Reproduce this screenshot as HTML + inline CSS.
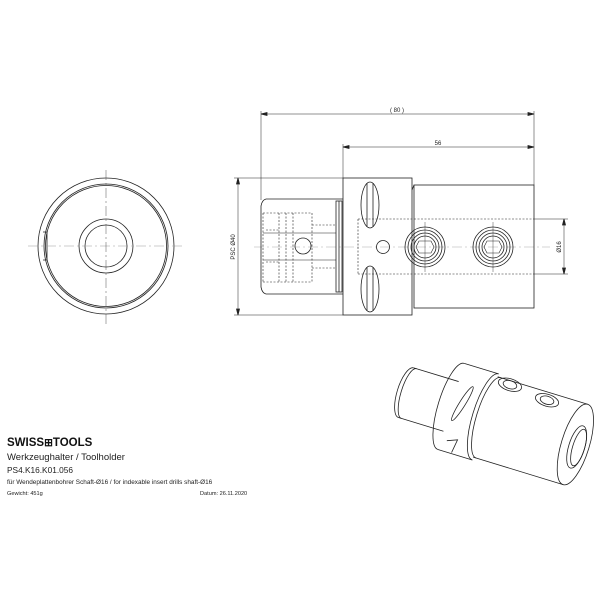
<!DOCTYPE html>
<html><head><meta charset="utf-8"><style>
html,body{margin:0;padding:0;background:#fff;width:600px;height:600px;overflow:hidden}
svg{display:block}
text{font-family:"Liberation Sans",sans-serif;fill:#222}
</style></head><body>
<svg width="600" height="600" viewBox="0 0 600 600" xmlns="http://www.w3.org/2000/svg">
<g fill="none" stroke="#222" stroke-width="0.8">
<circle cx="106" cy="246" r="68"/>
<circle cx="106" cy="246" r="62"/>
<circle cx="106" cy="246" r="60.5"/>
<circle cx="106" cy="246" r="27"/>
<circle cx="106" cy="246" r="21"/>
<path d="M43,232 L47,232 L47,260 L43,260"/>
<line x1="28" y1="246" x2="184" y2="246" stroke="#999" stroke-width="0.5" stroke-dasharray="10,3,2,3"/>
<line x1="106" y1="170" x2="106" y2="324" stroke="#555" stroke-width="0.5" stroke-dasharray="10,3,2,3"/>

<line x1="254" y1="247" x2="550" y2="247" stroke="#aaa" stroke-width="0.5" stroke-dasharray="10,3,2,3"/>
<line x1="261" y1="114" x2="534" y2="114" stroke-width="0.5"/>
<path d="M261,114 l6,-1.5 v3z M534,114 l-6,-1.5 v3z" fill="#222"/>
<line x1="343" y1="147" x2="534" y2="147" stroke-width="0.5"/>
<path d="M343,147 l6,-1.5 v3z M534,147 l-6,-1.5 v3z" fill="#222"/>
<line x1="261" y1="111" x2="261" y2="200" stroke-width="0.5"/>
<line x1="343" y1="144" x2="343" y2="178" stroke-width="0.5"/>
<line x1="534" y1="111" x2="534" y2="185" stroke-width="0.5"/>
<line x1="238" y1="178" x2="238" y2="315" stroke-width="0.5"/>
<path d="M238,178 l-1.5,6 h3z M238,315 l-1.5,-6 h3z" fill="#222"/>
<line x1="234" y1="178" x2="343" y2="178" stroke-width="0.5"/>
<line x1="234" y1="315" x2="343" y2="315" stroke-width="0.5"/>
<line x1="564" y1="219" x2="564" y2="274" stroke-width="0.5"/>
<path d="M564,219 l-1.5,6 h3z M564,274 l-1.5,-6 h3z" fill="#222"/>
<line x1="534" y1="219" x2="568" y2="219" stroke-width="0.5"/>
<line x1="534" y1="274" x2="568" y2="274" stroke-width="0.5"/>
<rect x="343" y="178" width="69" height="137"/>
<rect x="414" y="185" width="120" height="123"/>
<line x1="412" y1="190" x2="414" y2="185"/>
<path d="M343,199 L266,199 Q262,200 261,206 L261,287 Q262,293 266,294 L343,294"/>
<rect x="336" y="201" width="6" height="91"/>
<line x1="339" y1="201" x2="339" y2="292"/>
<g stroke-dasharray="2,1.5" stroke-width="0.6">
<line x1="263" y1="213" x2="263" y2="282"/>
<line x1="279" y1="213" x2="279" y2="282"/>
<line x1="286" y1="213" x2="286" y2="282"/>
<line x1="293" y1="213" x2="293" y2="282"/>
<line x1="263" y1="213" x2="312" y2="213"/>
<line x1="263" y1="282" x2="312" y2="282"/>
<line x1="312" y1="213" x2="312" y2="282"/>
<line x1="312" y1="225" x2="336" y2="225"/>
<line x1="312" y1="268" x2="336" y2="268"/>
<line x1="358" y1="219" x2="534" y2="219"/>
<line x1="358" y1="274" x2="534" y2="274"/>
<line x1="358" y1="219" x2="358" y2="274"/>
<line x1="266" y1="230" x2="280" y2="230"/>
<line x1="266" y1="262" x2="280" y2="262"/>
</g>
<line x1="263" y1="233" x2="336" y2="233" stroke-width="0.5"/>
<line x1="263" y1="260" x2="336" y2="260" stroke-width="0.5"/>
<circle cx="303" cy="246" r="8"/>
<circle cx="383" cy="247" r="6.5"/>
<ellipse cx="370" cy="205" rx="9" ry="23"/>
<ellipse cx="370" cy="289" rx="9" ry="23"/>
<line x1="367" y1="183" x2="367" y2="227"/><line x1="373" y1="183" x2="373" y2="227"/>
<line x1="367" y1="267" x2="367" y2="311"/><line x1="373" y1="267" x2="373" y2="311"/>
<circle cx="425" cy="247" r="20"/><circle cx="425" cy="247" r="17"/><circle cx="425" cy="247" r="14"/>
<circle cx="425" cy="247" r="11"/>
<path d="M419,241 h12 l3,6 l-3,6 h-12 l-3,-6z" stroke-width="0.6"/>
<line x1="425" y1="222" x2="425" y2="272" stroke-width="0.4"/>
<circle cx="493" cy="247" r="20"/><circle cx="493" cy="247" r="17"/><circle cx="493" cy="247" r="14"/>
<circle cx="493" cy="247" r="11"/>
<path d="M487,241 h12 l3,6 l-3,6 h-12 l-3,-6z" stroke-width="0.6"/>
<line x1="493" y1="222" x2="493" y2="272" stroke-width="0.4"/>

<g transform="translate(430,400) rotate(17)">
<path d="M-25,-26 L22,-26 M-25,26 L22,26"/>
<path d="M-25,-26 A9,26 0 0 0 -25,26"/>
<path d="M-22,-26 A8,26 0 0 0 -22,26"/>
<path d="M22,-45 L58,-45 M22,45 L58,45"/>
<path d="M22,-45 A13,45 0 0 0 22,45"/>
<path d="M58,-42 L152,-42 M58,42 L152,42"/>
<path d="M58,-45 A13,45 0 0 0 58,45"/>
<path d="M61,-42 A12,42 0 0 0 61,42"/>
<ellipse cx="152" cy="0" rx="14" ry="42"/>
<ellipse cx="154" cy="2" rx="8" ry="22"/>
<ellipse cx="156" cy="2" rx="6" ry="19"/>
<ellipse cx="32" cy="-6" rx="3" ry="20" transform="rotate(15 32 -6)"/>
<path d="M28,34 L38,30 L36,44"/>
<ellipse cx="72" cy="-38" rx="12" ry="6"/>
<ellipse cx="72" cy="-38" rx="7" ry="4"/>
<ellipse cx="112" cy="-34" rx="12" ry="6"/>
<ellipse cx="112" cy="-34" rx="7" ry="4"/>
</g>
</g>
<text x="397" y="112" font-size="6" text-anchor="middle">( 80 )</text>
<text x="438" y="145" font-size="6" text-anchor="middle">56</text>
<text x="0" y="0" font-size="6" text-anchor="middle" transform="translate(235,247) rotate(-90)">PSC Ø40</text>
<text x="0" y="0" font-size="6" text-anchor="middle" transform="translate(561,247) rotate(-90)">Ø16</text>

<text x="7" y="446" font-size="11.5" font-weight="bold" style="fill:#111">SWISS<tspan font-size="10.5">⊞</tspan>TOOLS</text>
<text x="7" y="460" font-size="9.5">Werkzeughalter / Toolholder</text>
<text x="7" y="473" font-size="8.3">PS4.K16.K01.056</text>
<text x="7" y="484" font-size="6.4">für Wendeplattenbohrer Schaft-Ø16 / for indexable insert drills shaft-Ø16</text>
<text x="7" y="495" font-size="5.6">Gewicht: 451g</text>
<text x="200" y="495" font-size="5.6">Datum: 26.11.2020</text>
</svg>
</body></html>
